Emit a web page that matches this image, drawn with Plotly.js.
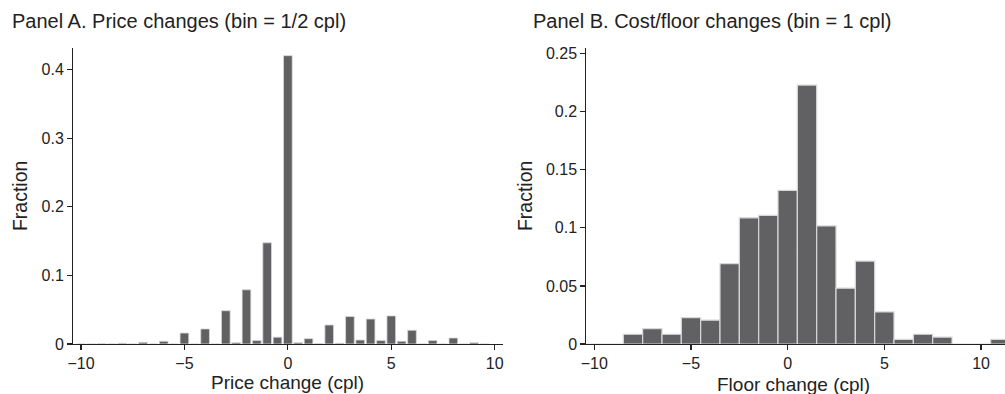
<!DOCTYPE html>
<html>
<head>
<meta charset="utf-8">
<script src="https://cdn.plot.ly/plotly-3.0.1.min.js"></script>
<style>html,body{margin:0;padding:0;background:#fff;}#chart{width:1005px;height:394px;}</style>
</head>
<body>
<div id="chart"></div>
<script>
// Panel A: price changes, bin = 1/2 cpl
const priceBins = [-10, -9.5, -9, -8.5, -8, -7.5, -7, -6.5, -6, -5.5, -5, -4.5, -4, -3.5, -3, -2.5, -2, -1.5, -1, -0.5,
                   0, 0.5, 1, 1.5, 2, 2.5, 3, 3.5, 4, 4.5, 5, 5.5, 6, 6.5, 7, 7.5, 8, 8.5, 9, 9.5];
const priceFrac = [0, 0, 0.0005, 0, 0.001, 0, 0.0024, 0, 0.004, 0, 0.016, 0, 0.022, 0, 0.0485, 0.002, 0.079, 0.005, 0.1475, 0.010,
                   0.4204, 0.002, 0.0078, 0.0005, 0.0277, 0.001, 0.040, 0.0058, 0.0364, 0.005, 0.041, 0.004, 0.020, 0, 0.005, 0, 0.0087, 0, 0.002, 0];

// Panel B: cost/floor changes, bin = 1 cpl
const floorBins = [-10, -9, -8, -7, -6, -5, -4, -3, -2, -1, 0, 1, 2, 3, 4, 5, 6, 7, 8, 9, 10, 11];
const floorFrac = [0, 0, 0.0084, 0.0133, 0.0084, 0.0228, 0.0205, 0.0692, 0.1087, 0.1107, 0.1323, 0.223, 0.1017, 0.0481, 0.0714, 0.0276, 0.004, 0.0084, 0.006, 0, 0, 0.004];

const xTicks = [-10, -5, 0, 5, 10];
const panelTitles = ["Panel A. Price changes (bin = 1/2 cpl)", "Panel B. Cost/floor changes (bin = 1 cpl)"];
const xTitles = ["Price change (cpl)", "Floor change (cpl)"];
const yTitle = "Fraction";

const barColor = '#616163';
const edgeColor = '#d8d8d8';
const fontFam = 'Liberation Sans, Arial, Helvetica, sans-serif';
const W = 1005, H = 394;

const traces = [
  {type: 'bar', x: priceBins, y: priceFrac, width: 0.42, xaxis: 'x', yaxis: 'y',
   marker: {color: barColor, line: {color: edgeColor, width: 0.8}}, hoverinfo: 'x+y'},
  {type: 'bar', x: floorBins, y: floorFrac, width: 1, xaxis: 'x2', yaxis: 'y2',
   marker: {color: barColor, line: {color: edgeColor, width: 1.2}}, hoverinfo: 'x+y'}
];

const axisCommon = {
  showgrid: false, zeroline: false, showline: true, linecolor: '#222', linewidth: 1.2,
  ticks: 'outside', ticklen: 4.5, tickwidth: 1.2, tickcolor: '#222',
  tickfont: {family: fontFam, size: 16, color: '#222'}, fixedrange: true
};
const titleFont = {family: fontFam, size: 19.5, color: '#222'};
const xTitleFont = {family: fontFam, size: 19, color: '#222'};

const xDomA = [72.7 / W, 503 / W];
const xDomB = [586 / W, 1];
const yDom = [(H - 344) / H, (H - 47.7) / H];

const layout = {
  width: W, height: H,
  margin: {l: 0, r: 0, t: 0, b: 0},
  paper_bgcolor: '#fff', plot_bgcolor: '#fff',
  showlegend: false, bargap: 0,
  font: {family: fontFam, color: '#222'},
  xaxis: Object.assign({}, axisCommon, {
    domain: xDomA, range: [-10.4, 10.4], tickvals: xTicks, anchor: 'y'
  }),
  yaxis: Object.assign({}, axisCommon, {
    domain: yDom, range: [0, 0.432], dtick: 0.1, tick0: 0, anchor: 'x',
    title: {text: yTitle, font: titleFont, standoff: 8}
  }),
  xaxis2: Object.assign({}, axisCommon, {
    domain: xDomB, range: [-10.43, 11.24], tickvals: xTicks, anchor: 'y2'
  }),
  yaxis2: Object.assign({}, axisCommon, {
    domain: yDom, range: [0, 0.2552], dtick: 0.05, tick0: 0, anchor: 'x2',
    title: {text: yTitle, font: titleFont, standoff: 8}
  }),
  annotations: [
    {text: panelTitles[0], xref: 'paper', yref: 'paper', x: 10 / W, y: 1 - 8 / H, xanchor: 'left', yanchor: 'top',
     showarrow: false, font: {family: fontFam, size: 20, color: '#222'}},
    {text: panelTitles[1], xref: 'paper', yref: 'paper', x: 531 / W, y: 1 - 8 / H, xanchor: 'left', yanchor: 'top',
     showarrow: false, font: {family: fontFam, size: 20, color: '#222'}},
    {text: xTitles[0], xref: 'x', yref: 'paper', x: 0, y: -1 / H, xanchor: 'center', yanchor: 'bottom',
     showarrow: false, font: xTitleFont},
    {text: xTitles[1], xref: 'x2', yref: 'paper', x: 0.3, y: -3 / H, xanchor: 'center', yanchor: 'bottom',
     showarrow: false, font: xTitleFont}
  ]
};

Plotly.newPlot('chart', traces, layout, {displayModeBar: false, staticPlot: true});
</script>
</body>
</html>
